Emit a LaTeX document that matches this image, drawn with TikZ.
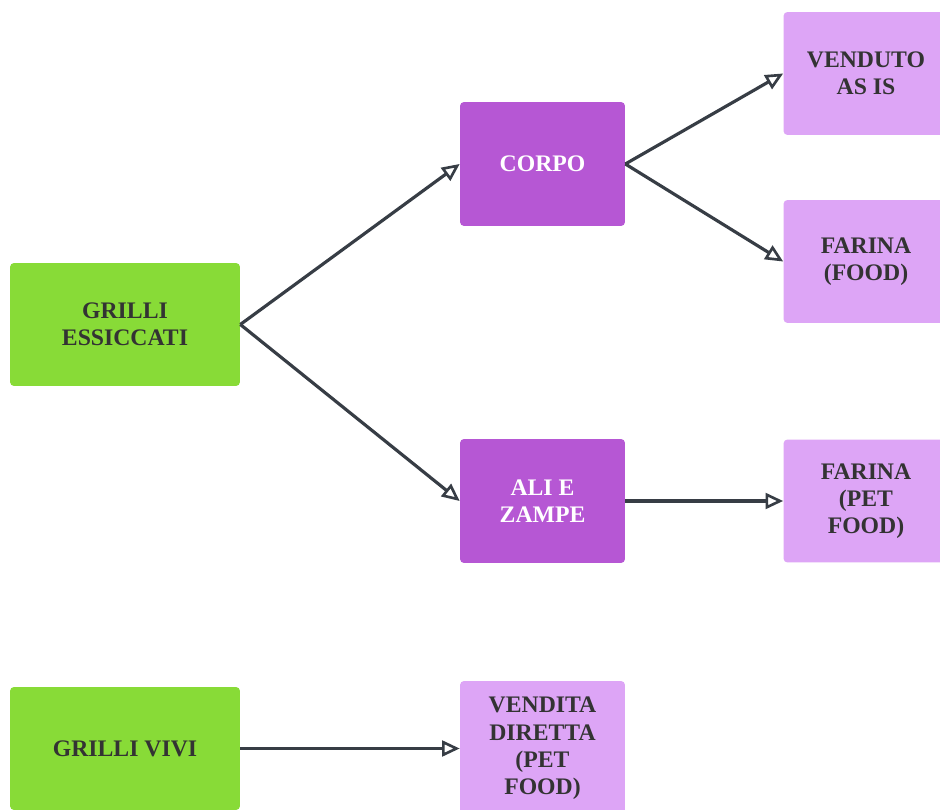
\documentclass[tikz,border=0pt]{standalone}
\usepackage{fontspec}
\setmainfont{Liberation Serif}
\usetikzlibrary{arrows.meta}
\definecolor{grn}{HTML}{88DB37}
\definecolor{dpur}{HTML}{B657D4}
\definecolor{lpur}{HTML}{DDA5F6}
\definecolor{txt}{HTML}{333333}
\definecolor{arr}{HTML}{373D45}
\begin{document}
\begin{tikzpicture}[x=0.02cm,y=-0.02cm,
  box/.style={rectangle, rounded corners=0.08cm, align=center, inner sep=0pt,
    font=\fontsize{13.5}{15.5}\selectfont\bfseries},
  gbox/.style={box, fill=grn, text=txt, minimum width=4.6cm, minimum height=2.46cm},
  dbox/.style={box, fill=dpur, text=white, minimum width=3.3cm, minimum height=2.48cm},
  lbox/.style={box, fill=lpur, text=txt, minimum width=3.3cm, minimum height=2.46cm},
  conn/.style={draw=arr, line width=1.8pt,
    -{Triangle[open, length=10pt, width=9pt, line width=1.5pt]}}]
\useasboundingbox (0,0) rectangle (940,810);
\clip (0,0) rectangle (940,810);
\fill[white] (0,0) rectangle (940,810);
\node[gbox] (ess) at (125,324.5) {GRILLI\\ESSICCATI};
\node[gbox] (vivi) at (125,748.5) {GRILLI VIVI};
\node[dbox] (corpo) at (542.5,164) {CORPO};
\node[dbox] (ali) at (542.5,501) {ALI E\\ZAMPE};
\node[lbox] (vend) at (866,73.5) {VENDUTO\\AS IS};
\node[lbox] (farf) at (866,261.5) {FARINA\\(FOOD)};
\node[lbox] (farp) at (866,501) {FARINA\\(PET\\FOOD)};
\node[lbox, minimum height=2.7cm] (dir) at (542.5,748.5) {VENDITA\\DIRETTA\\(PET\\FOOD)};
\draw[conn] (ess.east) -- (corpo.west);
\draw[conn] (ess.east) -- (ali.west);
\draw[conn] (corpo.east) -- (vend.west);
\draw[conn] (corpo.east) -- (farf.west);
\draw[conn] (ali.east) -- (farp.west);
\draw[conn] (vivi.east) -- (dir.west);
\end{tikzpicture}
\end{document}
